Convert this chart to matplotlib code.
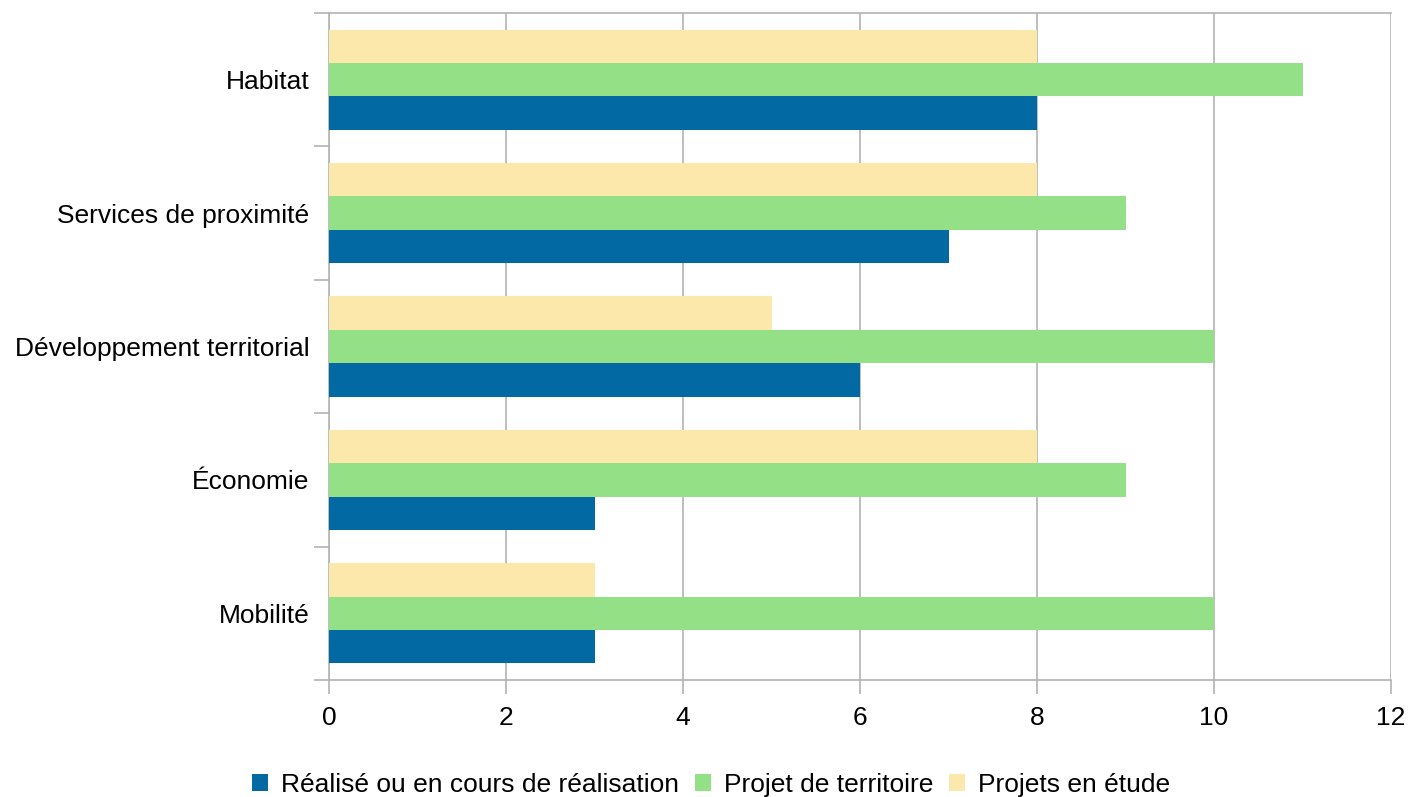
import matplotlib
matplotlib.use("Agg")
import matplotlib.pyplot as plt
import numpy as np

plt.rcParams['font.family'] = ['Liberation Sans', 'DejaVu Sans']

categories = ["Mobilité", "Économie", "Développement territorial", "Services de proximité", "Habitat"]
realise = [3, 3, 6, 7, 8]
projet_territoire = [10, 9, 10, 9, 11]
projets_etude = [3, 8, 5, 8, 8]
series_names = ["Réalisé ou en cours de réalisation", "Projet de territoire", "Projets en étude"]
colors = ["#0369a3", "#94e087", "#fce8aa"]
xticks = [0, 2, 4, 6, 8, 10, 12]

fs = 19
fig = plt.figure(figsize=(14.08, 7.97), dpi=100)
ax = fig.add_axes([329/1408, 1-680/797, (1391-329)/1408, (680-13)/797])

y = np.arange(len(categories))
h = 0.25
handles = []
for i, (vals, name, c) in enumerate(zip([realise, projet_territoire, projets_etude], series_names, colors)):
    b = ax.barh(y + (i - 1) * h, vals, height=h, color=c, label=name, zorder=3)
    handles.append(b)

grid_c = "#b3b3b3"
ax.set_xlim(0, 12)
ax.set_ylim(-0.5, len(categories) - 0.5)
ax.set_xticks(xticks)
ax.set_xticklabels([str(t) for t in xticks], fontsize=fs)
ax.xaxis.grid(True, color=grid_c, linewidth=1.2, zorder=0)
ax.tick_params(axis='x', length=10, color=grid_c, width=1.2, pad=9)

ax.set_yticks(np.arange(-0.5, len(categories)), minor=False)
ax.set_yticklabels([])
ax.tick_params(axis='y', which='major', length=11, color=grid_c, width=1.2)
ax.set_yticks(y, minor=True)
ax.set_yticklabels(categories, minor=True, fontsize=fs)
ax.tick_params(axis='y', which='minor', length=0, pad=14)

for s in ['left', 'bottom', 'top']:
    ax.spines[s].set_color(grid_c)
    ax.spines[s].set_linewidth(1.2)
ax.spines['right'].set_visible(False)

fig.legend(handles=handles, labels=series_names, loc='lower center', ncol=3,
           bbox_to_anchor=(0.505, -0.03), frameon=False, fontsize=fs,
           handlelength=0.6, handleheight=0.6, handletextpad=0.5, columnspacing=0.6)

fig.savefig("out.png", dpi=100)
